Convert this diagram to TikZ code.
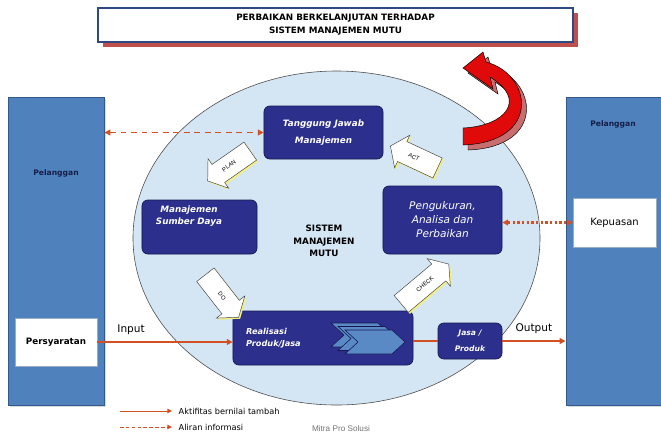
\documentclass[tikz,border=0pt]{standalone}
\usepackage{fontspec}
\setmainfont{DejaVu Sans}
\newfontfamily\arialfont{Liberation Sans}
\usepackage{xcolor}
\usepackage{tikz}
\usetikzlibrary{shapes.geometric,shadows,arrows.meta}

\definecolor{panelblue}{RGB}{79,129,189}
\definecolor{paneledge}{RGB}{52,90,140}
\definecolor{navybox}{RGB}{44,47,140}
\definecolor{navyedge}{RGB}{22,24,80}
\definecolor{sysblue}{RGB}{212,229,244}
\definecolor{flowred}{RGB}{210,80,35}
\definecolor{titleedge}{RGB}{45,75,130}
\definecolor{titleshadow}{RGB}{192,80,77}
\definecolor{custtext}{RGB}{20,30,70}
\definecolor{arred}{RGB}{225,10,10}
\definecolor{arshadow}{RGB}{200,110,110}
\definecolor{chevblue}{RGB}{90,138,198}
\definecolor{pdcashadow}{RGB}{245,240,120}

\begin{document}
\begin{tikzpicture}[x=0.03cm,y=-0.03cm,
  titlebox/.style={draw=titleedge, line width=1pt, fill=white, align=center,
    minimum width=14.25cm, minimum height=1.02cm,
    font=\fontsize{7.5}{9}\selectfont\bfseries,
    drop shadow={fill=titleshadow, opacity=1, shadow xshift=4pt, shadow yshift=-4.5pt}},
  panel/.style={draw=paneledge, line width=0.8pt, fill=panelblue,
    minimum width=2.88cm, minimum height=9.24cm,
    drop shadow={fill=black!15, opacity=1, shadow xshift=2pt, shadow yshift=-2pt}},
  custlabel/.style={text=custtext, font=\fontsize{6.5}{8}\selectfont\bfseries},
  whitebox/.style={draw=paneledge!50, fill=white, line width=0.4pt},
  navy/.style={draw=navyedge, fill=navybox, rounded corners=5pt, line width=0.6pt,
    text=white, align=center},
  pdcabody/.style={draw=black!75, fill=white, line width=0.4pt},
  pdcatext/.style={inner sep=0pt, font=\arialfont\fontsize{5}{6}\selectfont},
  flowline/.style={draw=flowred, line width=1.4pt, -{Triangle[length=5pt,width=5pt]}},
  infoline/.style={draw=flowred, line width=1.4pt, dash pattern=on 5pt off 4pt,
    {Triangle[length=5pt,width=5pt]}-{Triangle[length=5pt,width=5pt]}},
  chev/.style={draw=navyedge, fill=chevblue, line width=0.5pt}
]
\useasboundingbox (0,0) rectangle (661,437);

% header
\node[titlebox] (judul) at (335.5,25) {PERBAIKAN BERKELANJUTAN TERHADAP\\[2pt]SISTEM MANAJEMEN MUTU};

% customers
\node[panel] (plgKiri) at (56,251) {};
\node[panel] (plgKanan) at (614,251) {};
\node[custlabel] (lblKiri) at (56,173) {Pelanggan};
\node[custlabel] (lblKanan) at (613,124) {Pelanggan};
\node[whitebox, minimum width=2.46cm, minimum height=1.44cm,
  font=\fontsize{7.5}{9}\selectfont\bfseries] (syarat) at (56,342) {Persyaratan};
\node[whitebox, minimum width=2.49cm, minimum height=1.47cm,
  font=\fontsize{8.5}{10}\selectfont] (puas) at (614.5,222.5) {Kepuasan};

% the system
\node[ellipse, draw=black!70, line width=0.5pt, fill=sysblue,
  minimum width=12.21cm, minimum height=10.02cm] (sistem) at (336.5,238) {};
\node[align=center, font=\fontsize{7.5}{10.5}\selectfont\bfseries] (sistemTxt) at (324,241)
  {SISTEM\\MANAJEMEN\\MUTU};

\node[navy, minimum width=3.57cm, minimum height=1.59cm,
  font=\fontsize{7.5}{9}\selectfont\bfseries\itshape] (tjm) at (323.5,132.5)
  {Tanggung Jawab\\[5pt]Manajemen};
\node[navy, minimum width=3.45cm, minimum height=1.62cm,
  label={[anchor=north, text=white, align=center, yshift=-2pt, xshift=-9pt,
    font=\fontsize{7.5}{10}\selectfont\bfseries\itshape]north:Manajemen\\Sumber Daya}] (msd) at (199.5,227) {};
\node[navy, minimum width=3.57cm, minimum height=2.04cm,
  font=\fontsize{9}{12}\selectfont\itshape] (pap) at (442.5,220)
  {Pengukuran,\\Analisa dan\\Perbaikan};
\node[navy, minimum width=5.4cm, minimum height=1.62cm,
  label={[anchor=west, text=white, align=left, xshift=8pt,
    font=\fontsize{7}{10.5}\selectfont\bfseries\itshape]west:Realisasi\\Produk/Jasa}] (rpj) at (323,338) {};
\node[navy, minimum width=1.92cm, minimum height=1.08cm,
  font=\fontsize{6.5}{14}\selectfont\bfseries\itshape] (jp) at (470,341) {Jasa /\\Produk};

% chevrons
\foreach \k in {2,1,0}
  \filldraw[chev, shift={(-7*\k,-3.5*\k)}] (345,330) -- ++(47,0) -- ++(13,12) -- ++(-13,12)
    -- ++(-47,0) -- ++(13,-12) -- cycle;

% PDCA block arrows: name/x/y/direction/length/text flip
\foreach \nm/\cx/\cy/\ang/\len/\flip in {PLAN/229/166/215/52/180, DO/222/296/-52/54/0,
    CHECK/425/284/40/62/0, ACT/414/157/155/52/180}{
  \fill[pdcashadow, shift={(\cx+1.5,\cy+1.5)}, rotate=\ang]
    (-\len/2,-11) -- (\len/2-13,-11) -- (\len/2-13,-18) -- (\len/2,0) -- (\len/2-13,18)
    -- (\len/2-13,11) -- (-\len/2,11) -- cycle;
  \filldraw[pdcabody, shift={(\cx,\cy)}, rotate=\ang]
    (-\len/2,-11) -- (\len/2-13,-11) -- (\len/2-13,-18) -- (\len/2,0) -- (\len/2-13,18)
    -- (\len/2-13,11) -- (-\len/2,11) -- cycle;
  \node[pdcatext, rotate=\ang-\flip] (pdca\nm) at (\cx,\cy) {\nm};
}

% improvement arrow
\foreach \dx/\col in {5/arshadow,0/arred}
  \filldraw[fill=\col, draw=\ifx\col\arshadow none\else black\fi, line width=0.4pt, shift={(\dx,\dx)}]
    (463,128) .. controls (505,126) and (528,100) .. (490,77) -- (493,89) -- (463,68)
    -- (483,52) -- (486,62) .. controls (532,74) and (542,142) .. (463,145) -- cycle;

% flows
\draw[infoline] (plgKiri.east |- tjm.west) -- (tjm.west);
\draw[flowred, line width=1.8pt, dash pattern=on 2pt off 2pt,
  {Triangle[length=5pt,width=5pt]}-{Triangle[length=5pt,width=5pt]}] (pap.east |- puas.west) -- (puas.west);
\draw[flowline] (syarat.east) -- (syarat.east -| rpj.west)
  node[pos=0.25, above=2pt, text=black, font=\fontsize{9}{10}\selectfont] (lblIn) {Input};
\draw[draw=flowred, line width=1.4pt] (rpj.east |- jp.west) -- (jp.west);
\draw[flowline] (jp.east) -- (jp.east -| plgKanan.west)
  node[midway, above=2pt, text=black, font=\fontsize{9}{10}\selectfont] (lblOut) {Output};

% legend
\coordinate (lgA1) at (120,411);
\coordinate (lgA2) at (172,411);
\coordinate (lgB1) at (120,427);
\coordinate (lgB2) at (172,427);
\draw[draw=flowred, line width=0.8pt, -{Triangle[length=4pt,width=4pt]}] (lgA1) -- (lgA2)
  node[right=2pt, font=\fontsize{7}{8}\selectfont] (lgTxtA) {Aktifitas bernilai tambah};
\draw[draw=flowred, line width=0.8pt, dash pattern=on 3pt off 2pt, -{Triangle[length=4pt,width=4pt]}] (lgB1) -- (lgB2)
  node[right=2pt, font=\fontsize{7}{8}\selectfont] (lgTxtB) {Aliran informasi};
\node[text=black!55, font=\arialfont\fontsize{7}{8}\selectfont] (mitra) at (341,429) {Mitra Pro Solusi};

\end{tikzpicture}
\end{document}
